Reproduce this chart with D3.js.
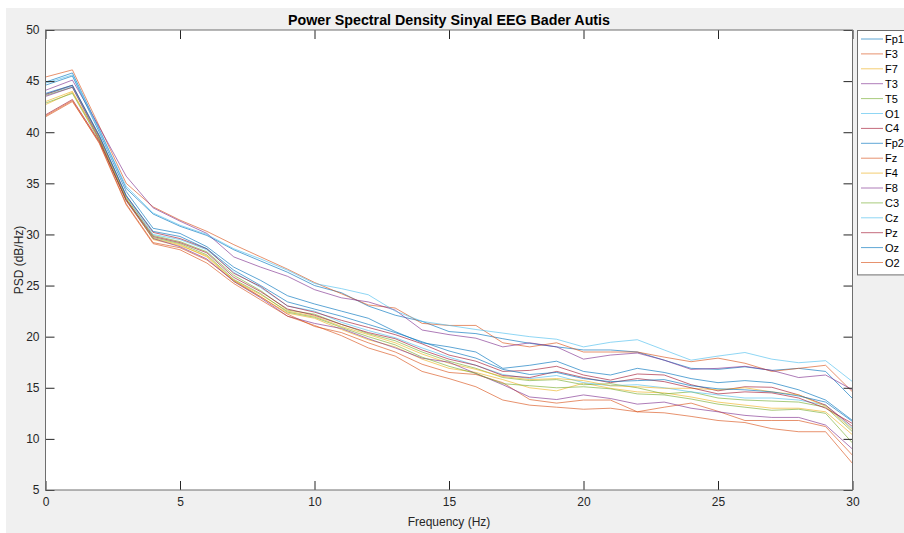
<!DOCTYPE html>
<html>
<head>
<meta charset="utf-8">
<script src="https://cdn.jsdelivr.net/npm/d3@7"></script>
<style>
  body { margin: 0; background: #ffffff; }
  svg { display: block; font-family: "Liberation Sans", Arial, sans-serif; }
</style>
</head>
<body>
<div id="chart"></div>
<script>
// Frequency bins (Hz)
const freqs = d3.range(0, 31);

// Channel names, in legend order
const channels = ["Fp1", "F3", "F7", "T3", "T5", "O1", "C4", "Fp2", "Fz", "F4", "F8", "C3", "Cz", "Pz", "Oz", "O2"];

// PSD values (dB/Hz) per channel
const Fp1 = [44.9, 45.8, 40.3, 34.5, 32.0, 30.8, 29.9, 28.5, 27.4, 26.3, 25.0, 24.3, 23.0, 22.1, 21.5, 20.5, 20.3, 19.8, 19.35, 19.0, 18.7, 18.7, 18.5, 17.7, 16.9, 16.8, 17.05, 16.7, 16.9, 16.6, 13.95];
const F3  = [45.4, 46.1, 40.6, 35.0, 32.7, 31.4, 30.3, 29.0, 27.8, 26.6, 25.3, 24.2, 23.1, 22.8, 21.3, 21.1, 21.1, 19.4, 19.0, 19.4, 18.5, 18.5, 18.5, 18.0, 17.55, 17.9, 17.4, 16.6, 16.9, 17.2, 14.6];
const F7  = [43.0, 44.0, 39.3, 33.3, 29.6, 29.0, 27.8, 25.4, 23.9, 22.3, 21.8, 20.7, 19.7, 19.0, 17.8, 16.9, 16.5, 15.8, 15.0, 14.7, 15.45, 14.95, 14.6, 14.5, 14.1, 13.6, 13.3, 13.0, 13.0, 12.65, 10.4];
const T3  = [44.1, 45.1, 40.5, 35.7, 32.6, 31.3, 30.1, 27.8, 26.8, 25.9, 24.6, 23.8, 23.4, 22.6, 20.65, 20.2, 19.85, 19.0, 19.4, 19.0, 17.8, 18.2, 18.4, 17.7, 16.8, 16.9, 17.1, 16.7, 16.0, 16.25, 14.8];
const T5  = [43.6, 44.4, 39.5, 33.6, 29.9, 29.3, 28.3, 26.0, 24.5, 22.6, 22.2, 21.2, 20.3, 19.6, 18.5, 17.6, 16.9, 16.0, 15.7, 15.8, 15.3, 15.4, 15.0, 14.4, 14.6, 14.0, 13.8, 13.7, 13.6, 13.1, 10.7];
const O1  = [43.7, 44.5, 39.6, 33.7, 30.0, 29.5, 28.5, 26.3, 24.8, 23.0, 22.5, 21.4, 20.6, 19.9, 18.9, 18.0, 17.2, 16.3, 15.9, 16.2, 15.5, 15.2, 15.3, 15.0, 14.6, 14.3, 14.0, 14.0, 13.8, 13.3, 11.0];
const C4  = [43.7, 44.6, 39.6, 33.8, 30.2, 29.6, 28.6, 26.2, 24.9, 23.0, 22.4, 21.6, 20.9, 20.2, 19.3, 18.2, 17.6, 16.6, 16.7, 17.1, 16.25, 15.75, 16.35, 16.25, 15.3, 14.7, 15.1, 15.05, 14.3, 13.3, 11.2];
const Fp2 = [44.6, 45.5, 40.0, 34.2, 30.6, 30.1, 28.8, 26.8, 25.5, 24.0, 23.2, 22.5, 21.8, 20.5, 19.4, 19.0, 18.5, 16.9, 17.2, 17.6, 16.6, 16.25, 16.9, 16.5, 15.9, 15.5, 15.7, 15.5, 14.8, 13.8, 11.8];
const Fz  = [41.5, 43.0, 39.0, 33.0, 29.2, 28.7, 27.5, 25.5, 23.9, 22.2, 21.0, 20.4, 19.4, 18.5, 17.3, 16.5, 16.3, 15.5, 13.85, 13.5, 13.8, 13.8, 12.65, 13.1, 13.5, 12.7, 11.8, 11.8, 11.8, 11.2, 8.4];
const F4  = [42.7, 43.9, 39.4, 33.5, 29.5, 28.9, 27.9, 25.5, 24.1, 22.5, 22.0, 21.0, 20.2, 19.4, 18.3, 17.4, 16.8, 16.1, 15.8, 15.9, 15.7, 15.2, 15.1, 14.95, 14.95, 14.8, 15.0, 14.6, 14.3, 13.2, 10.9];
const F8  = [43.5, 44.4, 39.3, 33.3, 29.6, 28.8, 27.6, 25.4, 23.8, 22.0, 21.3, 20.8, 19.8, 18.9, 17.9, 17.5, 16.4, 15.3, 14.1, 13.85, 14.3, 13.95, 13.4, 13.6, 13.0, 12.65, 12.3, 12.1, 12.1, 11.35, 9.0];
const C3  = [42.85, 43.8, 39.2, 33.4, 29.7, 29.1, 28.0, 25.6, 24.2, 22.4, 21.9, 20.9, 20.0, 19.2, 18.0, 17.1, 16.4, 15.4, 15.2, 15.0, 15.1, 14.9, 14.4, 14.3, 13.9, 13.4, 13.1, 12.8, 12.9, 12.5, 9.6];
const Cz  = [44.8, 45.6, 40.2, 34.7, 32.1, 30.9, 30.0, 28.6, 27.6, 26.5, 25.2, 24.7, 24.1, 22.5, 21.5, 21.1, 20.7, 20.35, 20.0, 19.75, 19.0, 19.45, 19.7, 18.7, 17.7, 18.1, 18.45, 17.8, 17.45, 17.65, 15.6];
const Pz  = [41.7, 43.2, 39.1, 33.4, 29.8, 29.2, 28.2, 25.8, 24.4, 22.7, 22.1, 21.2, 20.4, 19.8, 18.7, 17.8, 17.2, 16.2, 16.0, 16.6, 16.0, 15.5, 15.9, 15.6, 15.0, 14.4, 14.6, 14.5, 14.0, 13.0, 11.5];
const Oz  = [43.8, 44.6, 39.7, 33.8, 30.3, 29.8, 28.6, 26.5, 25.0, 23.4, 22.7, 22.0, 21.2, 20.4, 19.5, 18.6, 17.9, 16.8, 16.3, 16.5, 15.9, 15.6, 15.7, 15.8, 15.2, 14.9, 14.8, 14.6, 14.2, 13.6, 11.7];
const O2  = [41.6, 43.1, 38.9, 32.9, 29.1, 28.5, 27.2, 25.2, 23.6, 22.0, 21.1, 20.1, 18.9, 18.1, 16.6, 15.9, 15.1, 13.8, 13.3, 13.1, 12.9, 13.0, 12.65, 12.55, 12.2, 11.8, 11.6, 11.0, 10.7, 10.7, 7.6];

const psd = [Fp1, F3, F7, T3, T5, O1, C4, Fp2, Fz, F4, F8, C3, Cz, Pz, Oz, O2];

// Axis ticks
const xTicks = [0, 5, 10, 15, 20, 25, 30];
const yTicks = [5, 10, 15, 20, 25, 30, 35, 40, 45, 50];

const drawChart = () => {

  /*******************************/
  /*    Declare the constants    */
  /*******************************/
  const width = 904;
  const height = 533;
  const plot = {left: 45.5, right: 852.5, top: 30, bottom: 490};
  const axisColor = "#262626";
  const lineColors = ["#0072BD", "#D95319", "#EDB120", "#7E2F8E", "#77AC30", "#4DBEEE", "#A2142F"];


  /*******************************/
  /*    Append the containers    */
  /*******************************/
  const svg = d3.select("#chart")
    .append("svg")
      .attr("width", width)
      .attr("height", height);

  // Grey figure background
  svg
    .append("rect")
      .attr("x", 6)
      .attr("y", 8)
      .attr("width", width - 6)
      .attr("height", height - 8)
      .attr("fill", "#f0f0f0");

  // White axes area
  svg
    .append("rect")
      .attr("x", plot.left)
      .attr("y", plot.top)
      .attr("width", plot.right - plot.left)
      .attr("height", plot.bottom - plot.top)
      .attr("fill", "#ffffff");


  /****************************/
  /*    Declare the scales    */
  /****************************/
  const xScale = d3.scaleLinear()
    .domain([0, 30])
    .range([plot.left, plot.right]);

  const yScale = d3.scaleLinear()
    .domain([5, 50])
    .range([plot.bottom, plot.top]);


  /**************************/
  /*      Add the lines     */
  /**************************/
  const lineGenerator = d3.line()
    .x((d, i) => xScale(freqs[i]))
    .y(d => yScale(d));

  const linesGroup = svg.append("g");
  psd.forEach((values, i) => {
    linesGroup
      .append("path")
        .attr("d", lineGenerator(values))
        .attr("fill", "none")
        .attr("stroke", lineColors[i % lineColors.length])
        .attr("stroke-width", 0.85)
        .attr("stroke-opacity", 0.75);
  });


  /**************************/
  /*      Add the axes      */
  /**************************/
  const styleAxis = g => {
    g.select(".domain").remove();
    g.selectAll(".tick line").attr("stroke", axisColor);
    g.selectAll(".tick text")
      .attr("fill", axisColor)
      .attr("font-size", 12)
      .attr("font-family", "Liberation Sans, Arial, sans-serif");
  };

  svg
    .append("g")
      .attr("transform", `translate(0, ${plot.bottom})`)
      .call(d3.axisBottom(xScale).tickValues(xTicks).tickSize(-9).tickPadding(7).tickFormat(d3.format("d")))
      .call(styleAxis);
  svg
    .append("g")
      .attr("transform", `translate(0, ${plot.top})`)
      .call(d3.axisTop(xScale).tickValues(xTicks).tickSize(-9).tickFormat(""))
      .call(styleAxis);
  svg
    .append("g")
      .attr("transform", `translate(${plot.left}, 0)`)
      .call(d3.axisLeft(yScale).tickValues(yTicks).tickSize(-9).tickPadding(6).tickFormat(d3.format("d")))
      .call(styleAxis);
  svg
    .append("g")
      .attr("transform", `translate(${plot.right}, 0)`)
      .call(d3.axisRight(yScale).tickValues(yTicks).tickSize(-9).tickFormat(""))
      .call(styleAxis);

  // Box around the axes
  svg
    .append("rect")
      .attr("x", plot.left)
      .attr("y", plot.top)
      .attr("width", plot.right - plot.left)
      .attr("height", plot.bottom - plot.top)
      .attr("fill", "none")
      .attr("stroke", "#6e6e6e")
      .attr("stroke-width", 1);


  /**************************/
  /*    Titles and labels   */
  /**************************/
  svg
    .append("text")
      .text("Power Spectral Density Sinyal EEG Bader Autis")
      .attr("x", (plot.left + plot.right) / 2)
      .attr("y", 25)
      .attr("text-anchor", "middle")
      .attr("font-size", 14)
      .attr("font-weight", "bold")
      .attr("textLength", 322)
      .attr("lengthAdjust", "spacingAndGlyphs")
      .attr("fill", "#000");

  svg
    .append("text")
      .text("Frequency (Hz)")
      .attr("x", (plot.left + plot.right) / 2)
      .attr("y", 526)
      .attr("text-anchor", "middle")
      .attr("font-size", 12)
      .attr("fill", axisColor);

  svg
    .append("text")
      .text("PSD (dB/Hz)")
      .attr("transform", `translate(23, ${(plot.top + plot.bottom) / 2}) rotate(-90)`)
      .attr("text-anchor", "middle")
      .attr("font-size", 12)
      .attr("fill", axisColor);


  /**************************/
  /*       Add legend       */
  /**************************/
  const legend = svg
    .append("g")
      .attr("transform", "translate(857, 30)");

  const rowHeight = 14.9;
  legend
    .append("rect")
      .attr("x", 0.5)
      .attr("y", 0.5)
      .attr("width", 60)
      .attr("height", rowHeight * channels.length + 6)
      .attr("fill", "#ffffff")
      .attr("stroke", "#6e6e6e");

  channels.forEach((name, i) => {
    const yPos = 9 + i * rowHeight;
    legend
      .append("line")
        .attr("x1", 4)
        .attr("x2", 26)
        .attr("y1", yPos)
        .attr("y2", yPos)
        .attr("stroke", lineColors[i % lineColors.length])
        .attr("stroke-width", 0.85)
        .attr("stroke-opacity", 0.75);
    legend
      .append("text")
        .text(name)
        .attr("x", 28)
        .attr("y", yPos + 4)
        .attr("font-size", 11)
        .attr("fill", "#000");
  });

};

drawChart();
</script>
</body>
</html>
